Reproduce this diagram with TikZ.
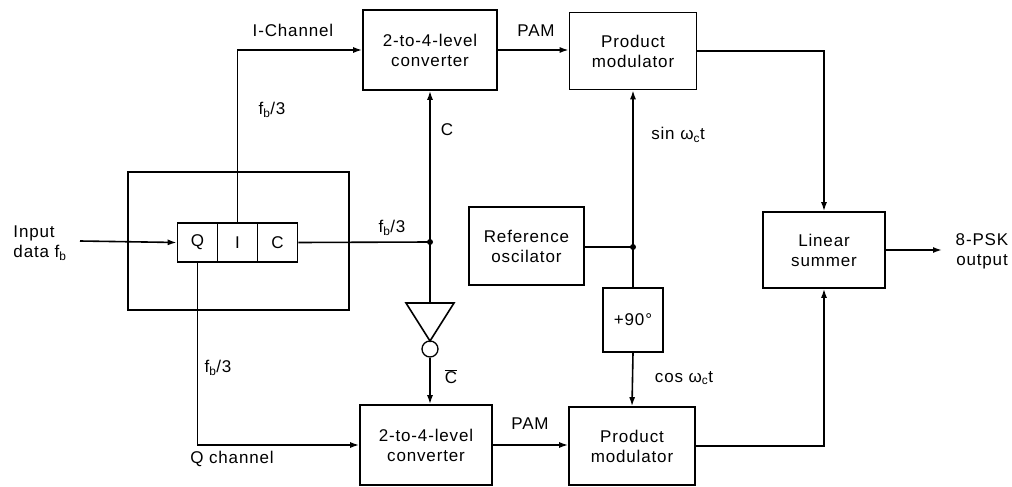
\documentclass[tikz,border=0pt]{standalone}
\usepackage{fontspec}
\setmainfont[LetterSpace=5]{Liberation Sans}
\usetikzlibrary{arrows.meta}
\newcommand{\fbx}{f\textsubscript{b}}
\begin{document}
\begin{tikzpicture}[x=1pt,y=-1pt, line width=1.6pt,
  txt/.style={font=\fontsize{17}{20}\selectfont},
  blk/.style={draw, rectangle, inner sep=0pt, align=center, txt},
  lbl/.style={txt, inner sep=1pt, align=center},
  arr/.style={-{Latex[length=9pt,width=6pt]}},
  dot/.style={circle, fill, inner sep=0pt, minimum size=6pt},
]
\useasboundingbox (0,0) rectangle (1012,487);

% frame and register
\node[draw, rectangle, minimum width=221pt, minimum height=138pt] (frame) at (238.5,241) {};
\node[blk, minimum width=40pt, minimum height=39pt] (Q) at (197.5,242.5) {Q};
\node[blk, minimum width=40pt, minimum height=39pt] (I) at (237.5,242.5) {I};
\node[blk, minimum width=40pt, minimum height=39pt] (C) at (277.5,242.5) {C};

% blocks
\node[blk, minimum width=134pt, minimum height=80pt] (conv1) at (430,50) {2-to-4-level\\converter};
\node[blk, minimum width=127pt, minimum height=77pt] (pm1) at (633,51) {Product\\modulator};
\node[blk, minimum width=132pt, minimum height=80pt] (conv2) at (426,445) {2-to-4-level\\converter};
\node[blk, minimum width=126pt, minimum height=78pt] (pm2) at (632,446) {Product\\modulator};
\node[blk, minimum width=115pt, minimum height=78pt] (ref) at (526.5,246) {Reference\\oscilator};
\node[blk, minimum width=60pt, minimum height=64pt] (p90) at (633,320) {+90°};
\node[blk, minimum width=122pt, minimum height=76pt] (sum) at (824,250) {Linear\\summer};

% coordinates
\coordinate (inp) at (80,241);
\coordinate (jc) at (430,242);
\coordinate (jr) at (633,247);
\coordinate (out) at (942,250);
\coordinate (invtop) at (430,303);
\coordinate (invL) at (406,303);
\coordinate (invR) at (454,303);
\coordinate (invtip) at (430,341);
\node[draw, circle, inner sep=0pt, minimum size=16pt, line width=1.3pt] (bub) at (430,349) {};

% texts
\node[lbl, align=left] (tin) at (40,243) {Input\\data \fbx};
\node[lbl] (tich) at (293,30) {I-Channel};
\node[lbl] (tfb1) at (272,110) {\fbx/3};
\node[lbl] (tfb2) at (392,228) {\fbx/3};
\node[lbl] (tc) at (447,130) {C};
\node[lbl] (tcb) at (451,377) {$\overline{\mbox{C}}$};
\node[lbl] (tfb3) at (218,368) {\fbx/3};
\node[lbl] (tqch) at (232,459) {Q channel};
\node[lbl] (tpam1) at (536,31) {PAM};
\node[lbl] (tpam2) at (530,424) {PAM};
\node[lbl] (tsin) at (678,135) {sin ω\textsubscript{c}t};
\node[lbl] (tcos) at (684,378) {cos ω\textsubscript{c}t};
\node[lbl] (tout) at (982,251) {8-PSK\\output};

% connectors
\draw[arr] (inp) -- (Q.west);
\draw[arr] (I.north) |- (conv1.west);
\draw (C.east) -- (jc);
\node[dot] at (jc) {};
\draw[arr] (jc) -- (conv1.south);
\draw (jc) -- (invtop);
\draw (invL) -- (invR) -- (invtip) -- cycle;
\draw[arr] (bub.south) -- (bub.south |- conv2.north);
\draw[arr] (Q.south) |- (conv2.west);
\draw[arr] (conv1.east) -- (conv1.east -| pm1.west);
\draw[arr] (conv2.east) -- (conv2.east -| pm2.west);
\draw (ref.east |- jr) -- (jr);
\node[dot] at (jr) {};
\draw[arr] (jr) -- (pm1.south);
\draw (jr) -- (p90.north);
\draw[arr] (p90.south) -- (pm2.north);
\draw[arr] (pm1.east) -| (sum.north);
\draw[arr] (pm2.east) -| (sum.south);
\draw[arr] (sum.east) -- (out);
\end{tikzpicture}
\end{document}
